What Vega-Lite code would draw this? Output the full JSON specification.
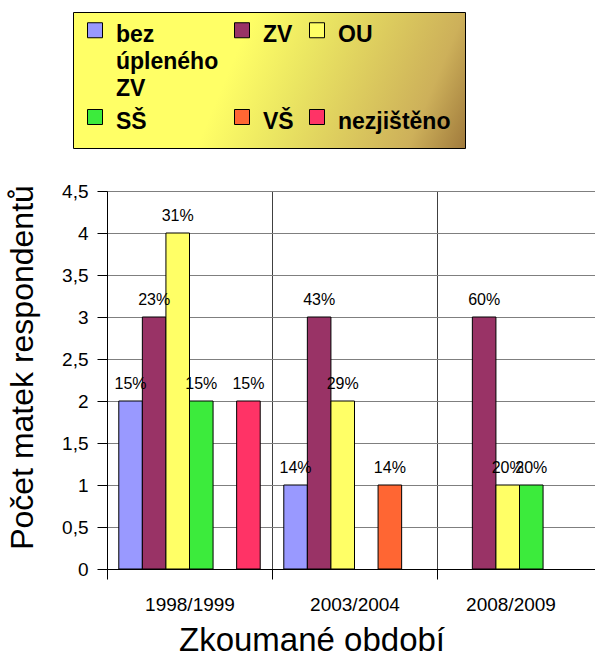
{
  "$schema": "https://vega.github.io/schema/vega-lite/v6.json",
  "width": 495,
  "height": 378,
  "autosize": {"type": "none"},
  "padding": {"left": 107, "top": 191, "right": 0, "bottom": 91},
  "background": "white",
  "config": {
    "view": {"stroke": null},
    "font": "Liberation Sans",
    "style": {"guide-label": {"lineHeight": 27}}
  },
  "data": {
    "values": [
      {"period": "1998/1999", "cat": "bez úpleného ZV", "n": 2, "pct": "15%"},
      {"period": "1998/1999", "cat": "ZV", "n": 3, "pct": "23%"},
      {"period": "1998/1999", "cat": "OU", "n": 4, "pct": "31%"},
      {"period": "1998/1999", "cat": "SŠ", "n": 2, "pct": "15%"},
      {"period": "1998/1999", "cat": "nezjištěno", "n": 2, "pct": "15%"},
      {"period": "2003/2004", "cat": "bez úpleného ZV", "n": 1, "pct": "14%"},
      {"period": "2003/2004", "cat": "ZV", "n": 3, "pct": "43%"},
      {"period": "2003/2004", "cat": "OU", "n": 2, "pct": "29%"},
      {"period": "2003/2004", "cat": "VŠ", "n": 1, "pct": "14%"},
      {"period": "2008/2009", "cat": "ZV", "n": 3, "pct": "60%"},
      {"period": "2008/2009", "cat": "OU", "n": 1, "pct": "20%"},
      {"period": "2008/2009", "cat": "SŠ", "n": 1, "pct": "20%"}
    ]
  },
  "encoding": {
    "x": {
      "field": "period",
      "type": "nominal",
      "sort": ["1998/1999", "2003/2004", "2008/2009"],
      "scale": {"paddingInner": 0, "paddingOuter": 0},
      "title": "Zkoumané období",
      "axis": {
        "labelAngle": 0,
        "tickBand": "extent",
        "grid": true,
        "gridColor": "#404040",
        "gridWidth": 1,
        "gridOpacity": 1,
        "domainColor": "black",
        "tickColor": "black",
        "tickSize": 10,
        "labelFontSize": 19,
        "labelColor": "black",
        "labelPadding": 16,
        "labelOffset": {"condition": {"test": "datum.label == '2008/2009'", "value": -9}, "value": 0},
        "titleFontSize": 33,
        "titleFontWeight": "normal",
        "titleColor": "black",
        "titlePadding": 10,
        "titleX": 204.5
      }
    },
    "xOffset": {
      "field": "cat",
      "type": "nominal",
      "scale": {
        "domain": ["bez úpleného ZV", "ZV", "OU", "SŠ", "VŠ", "nezjištěno"],
        "paddingInner": 0,
        "paddingOuter": 0.5
      }
    },
    "y": {
      "field": "n",
      "type": "quantitative",
      "scale": {"domain": [0, 4.5], "nice": false},
      "title": "Počet matek respondentů",
      "axis": {
        "values": [0, 0.5, 1, 1.5, 2, 2.5, 3, 3.5, 4, 4.5],
        "labelExpr": "replace(format(datum.value, '~g'), '.', ',')",
        "grid": true,
        "gridColor": "#7f7f7f",
        "gridOpacity": 1,
        "gridWidth": 1,
        "domainColor": "black",
        "tickColor": "black",
        "tickSize": 10,
        "labelFontSize": 19,
        "labelColor": "black",
        "labelPadding": 9,
        "titleFontSize": 32,
        "titleFontWeight": "normal",
        "titleColor": "black",
        "titlePadding": 22,
        "titleY": 176
      }
    }
  },
  "layer": [
    {
      "mark": {"type": "bar", "stroke": "black", "strokeWidth": 1},
      "encoding": {
        "color": {
          "field": "cat",
          "type": "nominal",
          "scale": {
            "domain": ["bez úpleného ZV", "ZV", "OU", "SŠ", "VŠ", "nezjištěno"],
            "range": ["#9999ff", "#993366", "#ffff66", "#3ceb3c", "#ff6633", "#ff3366"]
          },
          "legend": {
            "orient": "none",
            "legendX": -34,
            "legendY": -179,
            "columns": 3,
            "direction": "horizontal",
            "title": null,
            "symbolType": "M-1,-1.2667H0V-0.2667H-1Z",
            "symbolSize": 900,
            "symbolStrokeColor": "black",
            "symbolStrokeWidth": 1,
            "symbolOpacity": 1,
            "labelFont": "Liberation Sans",
            "labelFontWeight": "bold",
            "labelFontSize": 23,
            "labelColor": "black",
            "labelOffset": -2,
            "labelBaseline": "alphabetic",
            "labelLimit": 300,
            "labelExpr": "datum.label == 'bez úpleného ZV' ? ['bez', 'úpleného', 'ZV'] : (datum.label == 'ZV' || datum.label == 'OU') ? [datum.label, '', ''] : datum.label",
            "columnPadding": 13,
            "rowPadding": 6,
            "padding": 14,
            "strokeColor": "black",
            "fillColor": {
              "value": {
                "gradient": "linear",
                "x1": 0, "y1": 0, "x2": 1.122, "y2": 0.1638,
                "stops": [
                  {"offset": 0, "color": "#ffff66"},
                  {"offset": 0.4, "color": "#ffff66"},
                  {"offset": 0.56, "color": "#ebe662"},
                  {"offset": 0.87, "color": "#cdb05a"},
                  {"offset": 1, "color": "#a07a3c"}
                ]
              }
            }
          }
        }
      }
    },
    {
      "mark": {"type": "text", "dy": -12, "baseline": "alphabetic", "fontSize": 16, "color": "black", "font": "Liberation Sans"},
      "encoding": {
        "text": {"field": "pct"}
      }
    }
  ]
}
